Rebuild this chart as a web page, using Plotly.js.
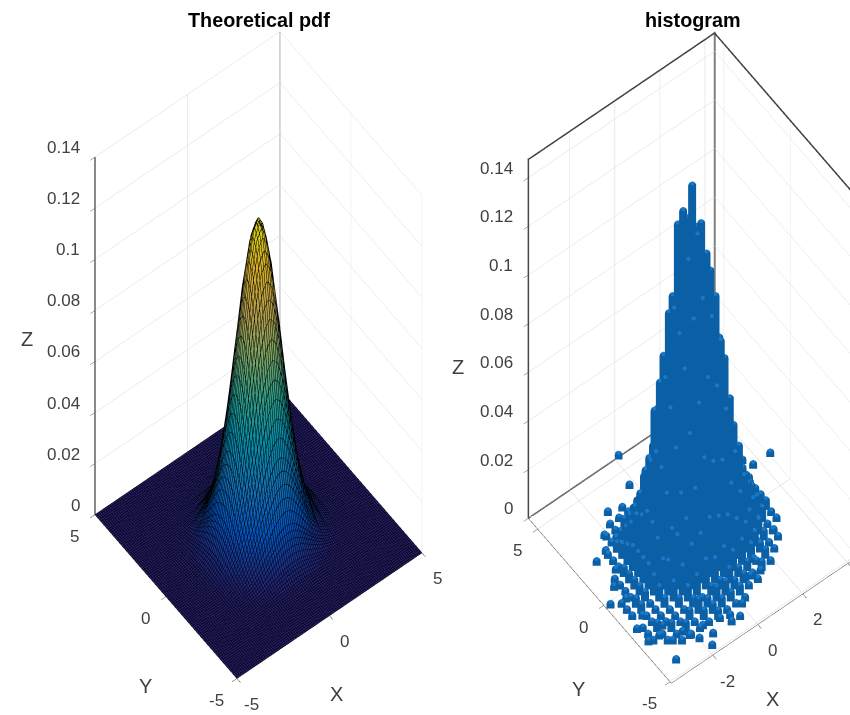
<!DOCTYPE html>
<html><head><meta charset="utf-8">
<script src="https://cdn.plot.ly/plotly-3.0.1.min.js"></script>
<style>html,body{margin:0;padding:0;width:850px;height:715px;overflow:hidden;background:#fff}#c{width:1000px;height:715px}</style>
</head><body><div id="c"></div>
<script>
const pdfAxis=[-5,-4,-3.5,-3,-2.5,-2,-1.5,-1,-.75,-.5,-.25,0,.25,.5,.75,1,1.5,2,2.5,3,3.5,4,5];
const pdfZ=[
[0,0,0,0,0,0,0,0,0,0,0,0,0,0,0,0,0,0,0,0,0,0,0],
[0,0,0,0,0,0,0,0,0,0,0,0,0,0,0,0,0,0,0,0,0,0,0],
[0,0,0,0,0,0,.0001,.0001,.0002,.0002,.0002,.0002,.0002,.0002,.0002,.0001,.0001,0,0,0,0,0,0],
[0,0,0,0,.0001,.0002,.0004,.0008,.0009,.0011,.0012,.0013,.0012,.0011,.0009,.0008,.0004,.0002,.0001,0,0,0,0],
[0,0,0,.0001,.0002,.0007,.0016,.0031,.0038,.0045,.0049,.0051,.0049,.0045,.0038,.0031,.0016,.0007,.0002,.0001,0,0,0],
[0,0,0,.0002,.0007,.0021,.0051,.0097,.0121,.0142,.0156,.0161,.0156,.0142,.0121,.0097,.0051,.0021,.0007,.0002,0,0,0],
[0,0,.0001,.0004,.0016,.0051,.0125,.0236,.0295,.0346,.0381,.0393,.0381,.0346,.0295,.0236,.0125,.0051,.0016,.0004,.0001,0,0],
[0,0,.0001,.0008,.0031,.0097,.0236,.0447,.0559,.0655,.0721,.0744,.0721,.0655,.0559,.0447,.0236,.0097,.0031,.0008,.0001,0,0],
[0,0,.0002,.0009,.0038,.0121,.0295,.0559,.0698,.0819,.0902,.0931,.0902,.0819,.0698,.0559,.0295,.0121,.0038,.0009,.0002,0,0],
[0,0,.0002,.0011,.0045,.0142,.0346,.0655,.0819,.0961,.1057,.1091,.1057,.0961,.0819,.0655,.0346,.0142,.0045,.0011,.0002,0,0],
[0,0,.0002,.0012,.0049,.0156,.0381,.0721,.0902,.1057,.1163,.1201,.1163,.1057,.0902,.0721,.0381,.0156,.0049,.0012,.0002,0,0],
[0,0,.0002,.0013,.0051,.0161,.0393,.0744,.0931,.1091,.1201,.124,.1201,.1091,.0931,.0744,.0393,.0161,.0051,.0013,.0002,0,0],
[0,0,.0002,.0012,.0049,.0156,.0381,.0721,.0902,.1057,.1163,.1201,.1163,.1057,.0902,.0721,.0381,.0156,.0049,.0012,.0002,0,0],
[0,0,.0002,.0011,.0045,.0142,.0346,.0655,.0819,.0961,.1057,.1091,.1057,.0961,.0819,.0655,.0346,.0142,.0045,.0011,.0002,0,0],
[0,0,.0002,.0009,.0038,.0121,.0295,.0559,.0698,.0819,.0902,.0931,.0902,.0819,.0698,.0559,.0295,.0121,.0038,.0009,.0002,0,0],
[0,0,.0001,.0008,.0031,.0097,.0236,.0447,.0559,.0655,.0721,.0744,.0721,.0655,.0559,.0447,.0236,.0097,.0031,.0008,.0001,0,0],
[0,0,.0001,.0004,.0016,.0051,.0125,.0236,.0295,.0346,.0381,.0393,.0381,.0346,.0295,.0236,.0125,.0051,.0016,.0004,.0001,0,0],
[0,0,0,.0002,.0007,.0021,.0051,.0097,.0121,.0142,.0156,.0161,.0156,.0142,.0121,.0097,.0051,.0021,.0007,.0002,0,0,0],
[0,0,0,.0001,.0002,.0007,.0016,.0031,.0038,.0045,.0049,.0051,.0049,.0045,.0038,.0031,.0016,.0007,.0002,.0001,0,0,0],
[0,0,0,0,.0001,.0002,.0004,.0008,.0009,.0011,.0012,.0013,.0012,.0011,.0009,.0008,.0004,.0002,.0001,0,0,0,0],
[0,0,0,0,0,0,.0001,.0001,.0002,.0002,.0002,.0002,.0002,.0002,.0002,.0001,.0001,0,0,0,0,0,0],
[0,0,0,0,0,0,0,0,0,0,0,0,0,0,0,0,0,0,0,0,0,0,0],
[0,0,0,0,0,0,0,0,0,0,0,0,0,0,0,0,0,0,0,0,0,0,0]];
const histGridX=[-3.4,-3,-2.6,-2.2,-1.8,-1.4,-1,-.6,-.2,.2,.6,1,1.4,1.8,2.2,2.6,3];
const histGridY=[-3.8,-3.4,-3,-2.6,-2.2,-1.8,-1.4,-1,-.6,-.2,.2,.6,1,1.4,1.8,2.2,2.6,3];
const histGridZ=[
[0,0,.002,.002,.002,.002,.004,.002,.002,.002,0,0,0,0,0,0,0],
[0,.002,.002,.004,.002,.004,.004,.004,.004,.004,.002,.002,0,0,0,0,0],
[.002,.002,.004,.002,.004,.006,.004,.006,.006,.004,.004,.002,.004,.002,0,0,0],
[.002,.004,.002,.002,.002,.004,.002,.004,.004,.006,.004,.004,.002,.004,.002,0,0],
[.002,.002,.002,.002,.004,.006,.008,.012,.01,.012,.008,.01,.006,.004,.002,.002,0],
[0,.002,.002,.004,.008,.012,.018,.02,.024,.022,.02,.016,.012,.006,.004,.002,0],
[.002,.004,.002,.006,.014,.022,.026,.036,.046,.042,.04,.028,.022,.012,.006,.002,.002],
[.002,.004,.004,.008,.012,.022,.034,.056,.066,.074,.068,.056,.036,.024,.012,.006,.002],
[.002,.002,.004,.01,.018,.034,.05,.08,.098,.104,.094,.082,.056,.034,.016,.008,.004],
[0,.002,.004,.01,.022,.042,.064,.092,.12,.128,.118,.098,.07,.04,.02,.01,.004],
[0,.002,.004,.01,.024,.046,.074,.1,.138,.146,.128,.106,.076,.044,.024,.012,.004],
[0,.002,.004,.01,.02,.04,.07,.096,.13,.13,.124,.1,.066,.042,.02,.008,.004],
[0,0,.002,.008,.018,.034,.056,.076,.098,.106,.1,.08,.052,.034,.018,.008,.002],
[0,0,.002,.006,.012,.022,.034,.052,.068,.074,.07,.054,.036,.022,.012,.006,.002],
[0,0,.002,.004,.008,.014,.024,.034,.04,.044,.04,.032,.024,.012,.008,.002,0],
[0,0,0,.002,.004,.008,.012,.016,.022,.024,.022,.016,.012,.006,.004,.002,0],
[0,0,0,.002,.002,.004,.006,.008,.01,.01,.01,.008,.004,.004,.002,0,0],
[0,0,0,0,.002,.002,.002,.004,.004,.004,.004,.002,.002,.002,0,0,0]];
const extraX=[.1,4.4,-1.56,-2.22,-2.56,-3.08,-2.74,-3.2,-3.73,-3.58,-3.56,-3.23,-1.87,-.03,-.39,-.75,1.29,.88,2.64,2.46,1.89,3.64,3.45,3.21,2.95,-3.12,-2.86,-2.26,-2.06,-1.56,-2.37,-2.79,-3.11,-3.15,-.64,-1,-1.65,-1.96,-1.05,-.31,1.37,.7,2.79,2.48,2.2];
const extraY=[5.6,1.45,3.57,2.71,2.03,1.83,.97,.31,-.32,-2.07,-2.9,-4.43,-4.84,-3.96,-4.43,-4.4,-3.11,-3.04,-1.8,-.93,-1.72,1.45,1.94,1.03,.2,-2.96,-3.54,-3.8,-4.2,-4.38,-3.45,-2.64,-1.67,-.51,-4.1,-3.94,-3.76,2.27,3.35,4.07,-2.44,-2.97,1.1,-.11,-.96];
const extraZ=[.002,.002,.002,.002,.002,.002,.002,.002,.002,.002,.002,.002,.002,.002,.002,.002,.002,.002,.002,.002,.002,.002,.002,.002,.002,.002,.002,.002,.002,.002,.002,.002,.002,.002,.002,.002,.002,.002,.002,.002,.002,.002,.002,.002,.002];
const zTicks=[0,.02,.04,.06,.08,.1,.12,.14];
const xTicksLeft=[-5,0,5], yTicksLeft=[-5,0,5];
const xTicksRight=[-2,0,2,4], yTicksRight=[-5,0,5];
const rangeLeft={x:[-5,5],y:[-5,5],z:[0,.14]};
const rangeRight={x:[-3.84,4.43],y:[-5.1,5.7],z:[0,.148]};
const parula=[[0,'#272070'],[.125,'#0354c0'],[.25,'#1171b4'],[.375,'#058ea8'],[.5,'#309d86'],[.625,'#7ca262'],[.75,'#b89e49'],[.875,'#d6af27'],[1,'#d4d512']];

const sx=[],sy=[],sz=[],tx=[],ty=[],tz=[];
function add(x,y,z){sx.push(x,x,null);sy.push(y,y,null);sz.push(0,z,null);tx.push(x);ty.push(y);tz.push(z);}
histGridZ.forEach((r,j)=>r.forEach((z,i)=>{if(z>0)add(histGridX[i],histGridY[j],z);}));
extraX.forEach((x,i)=>add(x,extraY[i],extraZ[i]));

const fam='Liberation Sans, Arial, sans-serif', grey='#404040';
function ax(range,vals){return {range:range,autorange:false,tickvals:vals,tickmode:'array',showticklabels:false,showbackground:false,gridcolor:'#d8d8d8',gridwidth:1,zeroline:false,showspikes:false,showline:true,linecolor:'#555',linewidth:1,ticks:'outside',ticklen:6,tickcolor:'#555',title:{text:''}};}
function labels(r,xv,yv,zv,tShift){
 const a=[],f={family:fam,size:17,color:grey},tf={family:fam,size:20,color:grey},b={showarrow:false,xanchor:'center',yanchor:'middle'};
 xv.forEach(v=>a.push(Object.assign({},b,{x:v,y:r.y[0],z:0,text:String(v),font:f,xshift:15,yshift:-26})));
 yv.forEach(v=>a.push(Object.assign({},b,{x:r.x[0],y:v,z:0,text:String(v),font:f,xshift:-20,yshift:-22})));
 zv.forEach(v=>a.push(Object.assign({},b,{x:r.x[0],y:r.y[1],z:v,text:String(v),font:f,xanchor:'right',xshift:-13,yshift:9.5})));
 a.push(Object.assign({},b,{x:0,y:r.y[0],z:0,text:'X',font:tf,xshift:tShift.x[0],yshift:-tShift.x[1]}));
 a.push(Object.assign({},b,{x:r.x[0],y:0,z:0,text:'Y',font:tf,xshift:tShift.y[0],yshift:-tShift.y[1]}));
 a.push(Object.assign({},b,{x:r.x[0],y:r.y[1],z:.07,text:'Z',font:tf,xshift:tShift.z[0],yshift:-tShift.z[1]}));
 return a;
}
const k=3;
function cam(){return {eye:{x:-.283*k,y:-.369*k,z:.885*k},center:{x:0,y:0,z:0},up:{x:0,y:0,z:1},projection:{type:'orthographic'}};}
const aspect={x:.657,y:.657,z:2.165};
const layout={width:1000,height:715,margin:{l:0,r:0,t:0,b:0},paper_bgcolor:'#fff',showlegend:false,
 scene:{domain:{x:[0,.517],y:[.007,1]},camera:cam(),aspectmode:'manual',aspectratio:aspect,bgcolor:'rgba(0,0,0,0)',
  xaxis:ax(rangeLeft.x,xTicksLeft),yaxis:ax(rangeLeft.y,yTicksLeft),zaxis:ax(rangeLeft.z,zTicks),
  annotations:labels(rangeLeft,xTicksLeft,yTicksLeft,zTicks,{x:[7,78],y:[-20,89],z:[-68,3]})},
 scene2:{domain:{x:[.443,.943],y:[0,1]},camera:cam(),aspectmode:'manual',aspectratio:aspect,bgcolor:'rgba(0,0,0,0)',
  xaxis:ax(rangeRight.x,xTicksRight),yaxis:ax(rangeRight.y,yTicksRight),zaxis:ax(rangeRight.z,zTicks),
  annotations:labels(rangeRight,xTicksRight,yTicksRight,zTicks,{x:[15,74],y:[-25,84],z:[-70,19]})},
 annotations:[
  {xref:'paper',yref:'paper',x:.259,y:1-20/715,xanchor:'center',yanchor:'middle',text:'<b>Theoretical pdf</b>',showarrow:false,font:{family:fam,size:19.8,color:'#000'}},
  {xref:'paper',yref:'paper',x:.693,y:1-20/715,xanchor:'center',yanchor:'middle',text:'<b>histogram</b>',showarrow:false,font:{family:fam,size:19.8,color:'#000'}}]};
const R=rangeRight,L=rangeLeft;
const boxTopZ=R.z[1]*.998, boxBackY=R.y[1]-.02, boxLeftX=R.x[0]+.02;
const traces=[
 {type:'surface',scene:'scene',x:pdfAxis,y:pdfAxis,z:pdfZ,colorscale:parula,cmin:0,cmax:.124,showscale:false,
  lighting:{ambient:1,diffuse:0,specular:0,roughness:1,fresnel:0},
  contours:{x:{show:true,start:-5,end:5,size:.1,color:'#000',width:1},y:{show:true,start:-5,end:5,size:.1,color:'#000',width:1},z:{show:false}}},
 {type:'scatter3d',scene:'scene',mode:'lines',x:[L.x[1],L.x[1]],y:[L.y[1],L.y[1]],z:L.z,line:{color:'#999',width:2}},
 {type:'scatter3d',scene:'scene',mode:'lines',x:[L.x[0],L.x[0]],y:[L.y[1],L.y[1]],z:L.z,line:{color:'#666',width:3}},
 {type:'scatter3d',scene:'scene2',mode:'lines',x:[boxLeftX,R.x[1]-.02,R.x[1]-.02],y:[boxBackY,boxBackY,R.y[0]],z:[boxTopZ,boxTopZ,boxTopZ],line:{color:'#404040',width:3}},
 {type:'scatter3d',scene:'scene2',mode:'lines',x:[R.x[0],R.x[1],R.x[1]],y:[R.y[1],R.y[1],R.y[0]],z:[0,0,0],line:{color:'#505050',width:3}},
 {type:'scatter3d',scene:'scene2',mode:'lines',x:[R.x[1],R.x[1]],y:[R.y[1],R.y[1]],z:R.z,line:{color:'#808080',width:4}},
 {type:'scatter3d',scene:'scene2',mode:'lines',x:[R.x[0],R.x[0]],y:[R.y[1],R.y[1]],z:R.z,line:{color:'#404040',width:3}},
 {type:'scatter3d',scene:'scene2',mode:'lines',x:sx,y:sy,z:sz,connectgaps:false,line:{color:'#0b5fa5',width:16}},
 {type:'scatter3d',scene:'scene2',mode:'markers',x:tx,y:ty,z:tz,marker:{color:'#0b5fa5',size:4.5,line:{width:0}}},
 {type:'scatter3d',scene:'scene2',mode:'markers',x:tx,y:ty,z:tz.map(v=>v+.0008),marker:{color:'#1b78c8',size:2.4,line:{width:0}}}
];
Plotly.newPlot('c',traces,layout,{displayModeBar:false,responsive:false});
</script></body></html>
